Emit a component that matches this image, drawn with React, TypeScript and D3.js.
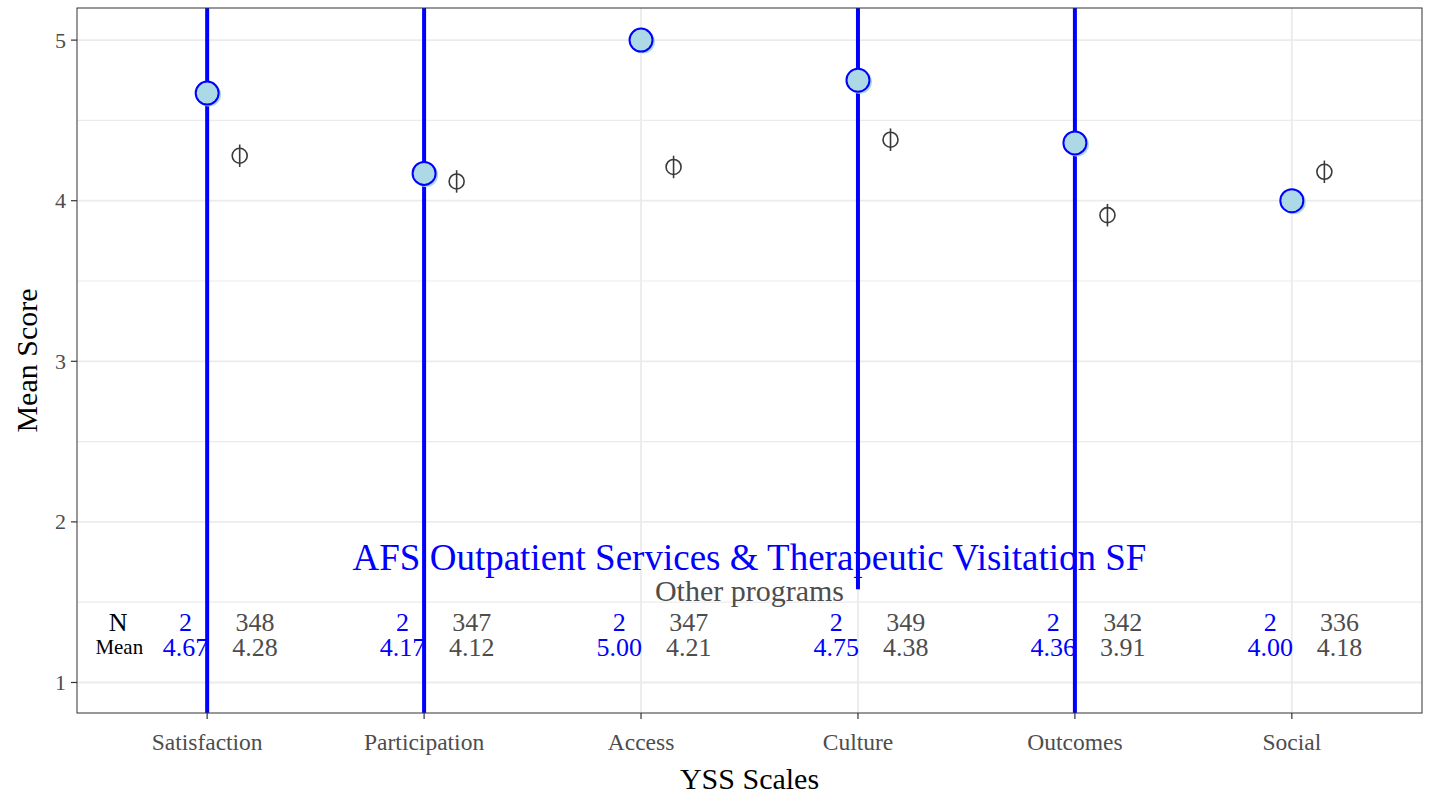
import React from 'react';
import * as d3 from 'd3';

const categories = ['Satisfaction', 'Participation', 'Access', 'Culture', 'Outcomes', 'Social'];
const programMean = [4.67, 4.17, 5.0, 4.75, 4.36, 4.0];
const programLow = [-1.3, -6.4, 5.0, 1.58, -3.6, 4.0];
const programHigh = [10.6, 14.7, 5.0, 7.92, 12.3, 4.0];
const programN = [2, 2, 2, 2, 2, 2];
const otherMean = [4.28, 4.12, 4.21, 4.38, 3.91, 4.18];
const otherLow = [4.21, 4.05, 4.14, 4.31, 3.84, 4.11];
const otherHigh = [4.35, 4.19, 4.28, 4.45, 3.98, 4.25];
const otherN = [348, 347, 347, 349, 342, 336];
const yTicks = [1, 2, 3, 4, 5];
const yMinor = [1.5, 2.5, 3.5, 4.5];
const programName = 'AFS Outpatient Services & Therapeutic Visitation SF';
const otherName = 'Other programs';

const W = 1429;
const H = 794;
const P = { left: 77, right: 1422, top: 8, bottom: 713 };
const FONT = '"Liberation Serif", "DejaVu Serif", serif';
const GREY = '#4D4D4D';

export default function App() {
  const x = d3.scalePoint<string>().domain(categories).range([P.left, P.right]).padding(0.6);
  const step = x.step();
  const y = d3.scaleLinear().domain([0.81, 5.2]).range([P.bottom, P.top]);
  const cx = (i: number) => x(categories[i]) as number;

  return (
    <svg width={W} height={H} style={{ position: 'absolute', left: 0, top: 0, display: 'block', background: '#fff' }} fontFamily={FONT}>
      <defs>
        <clipPath id="panel">
          <rect x={P.left} y={P.top} width={P.right - P.left} height={P.bottom - P.top} />
        </clipPath>
      </defs>
      <rect x={P.left} y={P.top} width={P.right - P.left} height={P.bottom - P.top} fill="#fff" />
      {yMinor.map((t) => (
        <line key={'m' + t} x1={P.left} x2={P.right} y1={y(t)} y2={y(t)} stroke="#EBEBEB" strokeWidth={1.2} />
      ))}
      {yTicks.map((t) => (
        <line key={'g' + t} x1={P.left} x2={P.right} y1={y(t)} y2={y(t)} stroke="#EBEBEB" strokeWidth={1.8} />
      ))}
      {categories.map((c) => (
        <line key={'v' + c} x1={x(c)} x2={x(c)} y1={P.top} y2={P.bottom} stroke="#EBEBEB" strokeWidth={1.8} />
      ))}

      {/* annotations */}
      <text x={(P.left + P.right) / 2} y={y(1.78)} dominantBaseline="central" textAnchor="middle" fill="#0000FF" fontSize={37}>
        {programName}
      </text>
      <text x={(P.left + P.right) / 2} y={y(1.57)} dominantBaseline="central" textAnchor="middle" fill={GREY} fontSize={30}>
        {otherName}
      </text>
      <text x={cx(0) - 0.41 * step} y={y(1.375)} dominantBaseline="central" textAnchor="middle" fill="#000" fontSize={26}>N</text>
      <text x={cx(0) - 0.405 * step} y={y(1.22)} dominantBaseline="central" textAnchor="middle" fill="#000" fontSize={21}>Mean</text>
      {categories.map((c, i) => (
        <g key={'t' + c}>
          <text x={cx(i) - 0.1 * step} y={y(1.375)} dominantBaseline="central" textAnchor="middle" fill="#0000FF" fontSize={26}>
            {programN[i]}
          </text>
          <text x={cx(i) - 0.1 * step} y={y(1.22)} dominantBaseline="central" textAnchor="middle" fill="#0000FF" fontSize={26}>
            {programMean[i].toFixed(2)}
          </text>
          <text x={cx(i) + 0.22 * step} y={y(1.375)} dominantBaseline="central" textAnchor="middle" fill={GREY} fontSize={26}>
            {otherN[i]}
          </text>
          <text x={cx(i) + 0.22 * step} y={y(1.22)} dominantBaseline="central" textAnchor="middle" fill={GREY} fontSize={26}>
            {otherMean[i].toFixed(2)}
          </text>
        </g>
      ))}

      <g clipPath="url(#panel)">
        {categories.map((c, i) =>
          programHigh[i] > programLow[i] ? (
            <line key={'e' + c} x1={cx(i)} x2={cx(i)} y1={y(programLow[i])} y2={y(programHigh[i])} stroke="#0000FF" strokeWidth={4} />
          ) : null
        )}
        {categories.map((c, i) => (
          <g key={'o' + c}>
            <line x1={cx(i) + 0.15 * step} x2={cx(i) + 0.15 * step} y1={y(otherLow[i])} y2={y(otherHigh[i])} stroke="#3A3A3A" strokeWidth={1.6} />
            <circle cx={cx(i) + 0.15 * step} cy={y(otherMean[i])} r={7.5} fill="none" stroke="#3A3A3A" strokeWidth={1.6} />
          </g>
        ))}
        {categories.map((c, i) => (
          <g key={'p' + c}>
            <circle cx={cx(i) + 2} cy={y(programMean[i]) + 1.5} r={12} fill="#ADD8E6" />
            <circle cx={cx(i)} cy={y(programMean[i])} r={11.5} fill="#ADD8E6" stroke="#0000FF" strokeWidth={2} />
          </g>
        ))}
      </g>

      <rect x={P.left} y={P.top} width={P.right - P.left} height={P.bottom - P.top} fill="none" stroke="#333333" strokeWidth={1} />

      {/* y axis */}
      {yTicks.map((t) => (
        <g key={'yt' + t}>
          <line x1={P.left - 6} x2={P.left} y1={y(t)} y2={y(t)} stroke="#333333" strokeWidth={1.2} />
          <text x={P.left - 11} y={y(t)} dominantBaseline="central" textAnchor="end" fill={GREY} fontSize={22}>
            {t}
          </text>
        </g>
      ))}
      {/* x axis */}
      {categories.map((c) => (
        <g key={'xt' + c}>
          <line x1={x(c)} x2={x(c)} y1={P.bottom} y2={P.bottom + 6} stroke="#333333" strokeWidth={1.2} />
          <text x={x(c)} y={P.bottom + 29} dominantBaseline="central" textAnchor="middle" fill={GREY} fontSize={23.5}>
            {c}
          </text>
        </g>
      ))}
      <text x={(P.left + P.right) / 2} y={778} dominantBaseline="central" textAnchor="middle" fill="#000" fontSize={30}>
        YSS Scales
      </text>
      <text transform={`translate(26,${(P.top + P.bottom) / 2}) rotate(-90)`} dominantBaseline="central" textAnchor="middle" fill="#000" fontSize={30}>
        Mean Score
      </text>
    </svg>
  );
}
